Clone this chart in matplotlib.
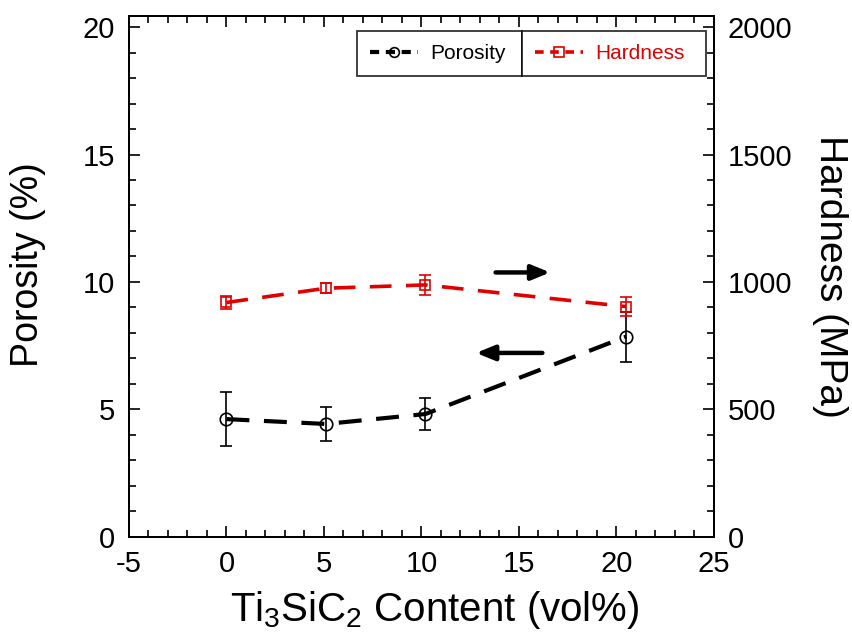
import matplotlib
matplotlib.use("Agg")
import matplotlib.pyplot as plt
from matplotlib.lines import Line2D
from matplotlib.ticker import MultipleLocator

plt.rcParams["font.family"] = ["Liberation Sans", "DejaVu Sans"]
plt.rcParams["mathtext.fontset"] = "custom"
plt.rcParams["mathtext.rm"] = "Liberation Sans"
plt.rcParams["mathtext.it"] = "Liberation Sans"
plt.rcParams["axes.unicode_minus"] = False

# Ti3SiC2 content (vol%)
content = [0, 5.1, 10.2, 20.5]

# Porosity (%) with error
porosity = [4.61, 4.42, 4.81, 7.85]
porosity_err = [1.05, 0.65, 0.63, 0.98]

# Hardness (MPa) with error
hardness = [919, 975, 988, 903]
hardness_err = [24, 20, 38, 37]

red = "#e00000"

fig = plt.figure(figsize=(8.53, 6.41), dpi=100)
ax = fig.add_axes([0.1512, 0.163, 0.6858, 0.812])
ax2 = ax.twinx()

ax.errorbar(content, porosity, yerr=porosity_err, color="black", lw=3,
            dashes=(5.5, 3.5), marker="o", ms=9, mfc="none", mec="black",
            mew=1.2, ecolor="black", elinewidth=1.2, capsize=4, capthick=1.2)
ax2.errorbar(content, hardness, yerr=hardness_err, color=red, lw=2.6,
             dashes=(6, 4), marker="s", ms=7, mfc="none", mec=red,
             mew=1.2, ecolor=red, elinewidth=1.2, capsize=4, capthick=1.2)

# direction arrows pointing to each axis
arrow = dict(arrowstyle="-|>,head_length=1.1,head_width=0.45",
             color="black", lw=3.2, shrinkA=0, shrinkB=0)
ax.annotate("", xy=(16.6, 10.37), xytext=(13.8, 10.37), arrowprops=arrow)
ax.annotate("", xy=(12.8, 7.21), xytext=(16.2, 7.21), arrowprops=arrow)

ax.set_xlim(-5, 25)
ax.set_ylim(0, 20.44)
ax2.set_ylim(0, 2044)

ax.xaxis.set_major_locator(MultipleLocator(5))
ax.xaxis.set_minor_locator(MultipleLocator(1))
ax.yaxis.set_major_locator(MultipleLocator(5))
ax.yaxis.set_minor_locator(MultipleLocator(1))
ax2.yaxis.set_major_locator(MultipleLocator(500))
ax2.yaxis.set_minor_locator(MultipleLocator(100))

ax.tick_params(which="both", direction="in", top=True, right=False,
               labelsize=21, width=1.2, pad=10)
ax.tick_params(which="major", length=8)
ax.tick_params(which="minor", length=5)
ax2.tick_params(which="both", direction="in", labelsize=21, width=1.2, pad=10)
ax2.tick_params(which="major", length=8)
ax2.tick_params(which="minor", length=5)

for a in (ax, ax2):
    for s in a.spines.values():
        s.set_linewidth(1.4)

ax.set_xlabel(r"Ti$_3$SiC$_2$ Content (vol%)", fontsize=29)
ax.xaxis.set_label_coords(0.522, -0.1)
ax.set_ylabel("Porosity (%)", fontsize=27)
ax.yaxis.set_label_coords(-0.142, 0.523)
ax2.set_ylabel("Hardness (MPa)", fontsize=28, rotation=270, labelpad=40)

h1 = Line2D([], [], color="black", lw=3, dashes=(2.2, 1.6), marker="o", ms=7,
            mfc="none", mec="black", mew=1.2)
h2 = Line2D([], [], color=red, lw=2.6, dashes=(2.4, 1.8), marker="s", ms=7,
            mfc="none", mec=red, mew=1.2)

leg_kw = dict(loc="upper left", mode="expand", fontsize=15, frameon=True,
              fancybox=False, edgecolor="black", handlelength=2.3,
              handletextpad=0.6, borderpad=0.62, borderaxespad=0)
leg1 = ax.legend([h1], ["Porosity"],
                 bbox_to_anchor=(0.390, 0.971, 0.282, 0.0), **leg_kw)
leg1.get_frame().set_linewidth(1.3)
ax.add_artist(leg1)
leg2 = ax.legend([h2], ["Hardness"], labelcolor=red,
                 bbox_to_anchor=(0.672, 0.971, 0.314, 0.0), **leg_kw)
leg2.get_frame().set_linewidth(1.3)

fig.savefig("out.png", dpi=100)
